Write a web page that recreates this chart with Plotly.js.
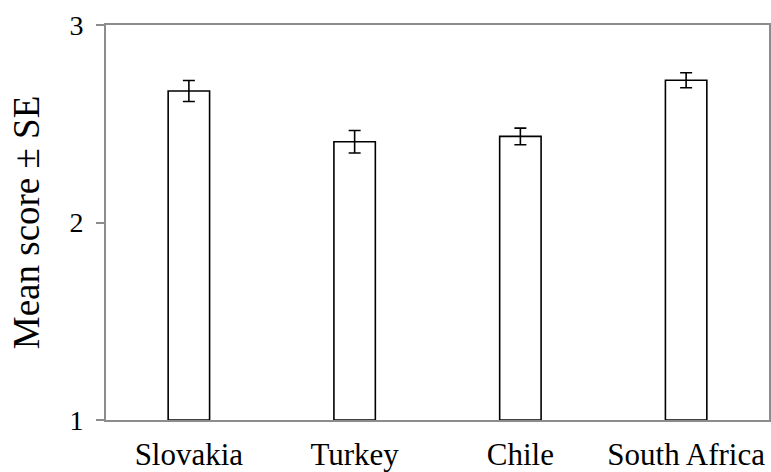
<!DOCTYPE html>
<html><head><meta charset="utf-8">
<script src="https://cdn.plot.ly/plotly-3.0.1.min.js"></script>
<style>html,body{margin:0;padding:0;background:#fff}#chart{width:771px;height:472px}</style>
</head><body><div id="chart"></div>
<script>
const countries = ["Slovakia", "Turkey", "Chile", "South Africa"];
const meanScores = [2.666, 2.409, 2.436, 2.72];
const standardErrors = [0.053, 0.057, 0.042, 0.038];
const yTickValues = [1, 2, 3];
const axisBase = 1;

const serif = "Liberation Serif";

const trace = {
  type: "bar",
  x: countries,
  y: meanScores.map(v => v - axisBase),
  base: axisBase,
  width: 0.25,
  marker: {color: "#ffffff", line: {color: "#000000", width: 1.6}},
  error_y: {type: "data", array: standardErrors, visible: true, color: "#000000", thickness: 1.6, width: 6}
};

const layout = {
  width: 771, height: 472,
  margin: {l: 106, r: 2, t: 25, b: 52},
  paper_bgcolor: "#ffffff", plot_bgcolor: "#ffffff",
  font: {family: serif, color: "#000000"},
  showlegend: false,
  xaxis: {
    range: [-0.5, 3.5],
    showline: true, linecolor: "#8c8c8c", linewidth: 2, mirror: true,
    ticks: "", showgrid: false, zeroline: false,
    tickfont: {size: 31, family: serif, color: "#000000"},
    ticklabelstandoff: 6
  },
  yaxis: {
    range: [1, 3],
    tickvals: yTickValues,
    ticktext: yTickValues.map(String),
    showline: true, linecolor: "#8c8c8c", linewidth: 2, mirror: true,
    ticks: "outside", ticklen: 8, tickcolor: "#8c8c8c", tickwidth: 2,
    showgrid: false, zeroline: false,
    tickfont: {size: 28, family: serif, color: "#000000"},
    ticklabelstandoff: 7,
    title: {text: "Mean score ± SE", font: {size: 37, family: serif, color: "#000000"}, standoff: 18}
  }
};
Plotly.newPlot("chart", [trace], layout, {displayModeBar: false, staticPlot: true});
</script></body></html>
